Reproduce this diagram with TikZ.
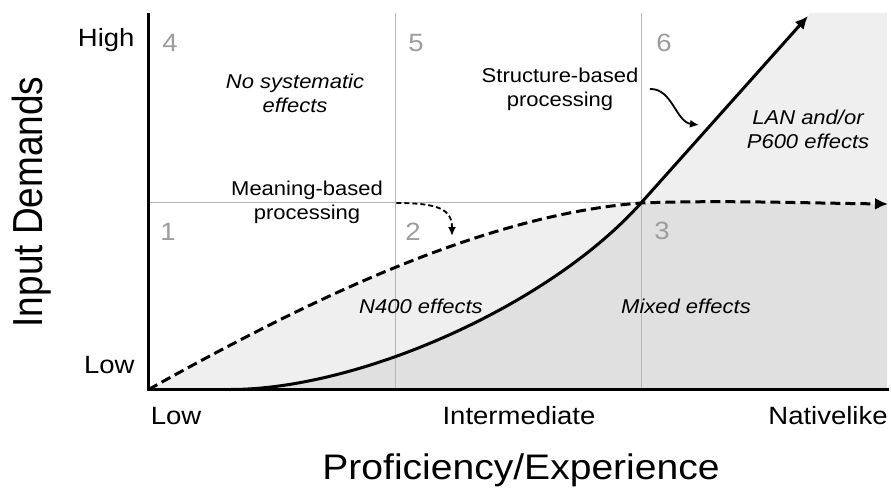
\documentclass[tikz,border=0pt]{standalone}
\usepackage{fontspec}
\setmainfont[FakeStretch=1.1]{Liberation Sans}
\newfontfamily\vertfont[FakeStretch=0.88]{Liberation Sans}
\usetikzlibrary{arrows.meta}
\tikzset{>={Latex[length=13pt,width=12pt]}}
\definecolor{lightdots}{HTML}{EFEFEF}
\definecolor{darkdots}{HTML}{E0E0E0}
\definecolor{gridgray}{HTML}{B5B5B5}
\definecolor{numgray}{HTML}{9C9C9C}
\tikzset{
    quadnum/.style={text=numgray, font=\fontsize{25}{30}\selectfont, anchor=base},
    ticklabel/.style={font=\fontsize{25}{30}\selectfont, anchor=base},
    effect/.style={font=\fontsize{20}{24}\selectfont\itshape, align=center},
    process/.style={font=\fontsize{20}{24}\selectfont, align=center},
    pointer/.style={line width=1.8pt, -{Latex[length=9pt,width=8pt]}},
}

\begin{document}
\begin{tikzpicture}[x=1pt, y=-1pt]
    \useasboundingbox (0,0) rectangle (891,487);
    \coordinate (origin) at (148.5,389.5);
    \coordinate (rise) at (230,389.5);
    \coordinate (cross) at (641,203);
    \coordinate (structtip) at (808,16);
    \coordinate (meantip) at (888,204);
    \fill[lightdots] (origin) .. controls (300,305) and (480,215) .. (cross) .. controls (550,305) and (360,389.5) .. (rise) -- cycle;
    \fill[lightdots] (cross) -- (810.5,13) -- (887,13) -- (887,204) .. controls (800,203) and (720,200) .. (cross) -- cycle;
    \fill[darkdots] (rise) .. controls (360,389.5) and (550,305) .. (cross) .. controls (720,200) and (800,203) .. (887,204) -- (887,389.5) -- cycle;
    \draw[gridgray, line width=1pt] (395,13) -- (395,389.5) (641,13) -- (641,389.5) (origin|-0,202) -- (641,202);
    \node[quadnum] (q4) at (170,52) {4};
    \node[quadnum] (q5) at (416,52) {5};
    \node[quadnum] (q6) at (664,52) {6};
    \node[quadnum] (q1) at (168,240) {1};
    \node[quadnum] (q2) at (413,240) {2};
    \node[quadnum] (q3) at (662,239) {3};
    \node[effect] (nosys) at (295,93) {No systematic\\effects};
    \node[effect] (lan) at (808,129) {LAN and/or\\P600 effects};
    \node[effect, anchor=base] (n400) at (421,313) {N400 effects};
    \node[effect, anchor=base] (mixed) at (686,313) {Mixed effects};
    \node[process] (mbp) at (307,202) {Meaning-based\\processing};
    \node[process] (sbp) at (560,89) {Structure-based\\processing};
    \coordinate (sbptip) at (699,125);
    \coordinate (mbptip) at (452,236);
    \draw[pointer] ([xshift=8pt]sbp.east) .. controls (672,88) and (676,122) .. (sbptip);
    \draw[pointer, dash pattern=on 5pt off 3pt] ([xshift=10pt,yshift=-1pt]mbp.east) .. controls (440,203) and (452,210) .. (mbptip);
    \draw[line width=3pt, dash pattern=on 10pt off 5pt, ->] (origin) .. controls (300,305) and (480,215) .. (cross) .. controls (720,200) and (800,203) .. (meantip);
    \draw[line width=3pt, ->] (rise) .. controls (360,389.5) and (550,305) .. (cross) -- (structtip);
    \draw[line width=3.5pt] (148.5,13) -- (origin) -- (889,389.5);
    \node[ticklabel, anchor=base east] (yhigh) at (138,47) {High};
    \node[ticklabel, anchor=base east] (ylow) at (138,373) {Low};
    \node[ticklabel] (xlow) at (176,424) {Low};
    \node[ticklabel] (xmid) at (519,424) {Intermediate};
    \node[ticklabel] (xnat) at (828,424) {Nativelike};
    \node[font=\fontsize{35.5}{42}\selectfont, anchor=base] (xtitle) at (521,479) {Proficiency/Experience};
    \node[font=\vertfont\fontsize{42}{50}\selectfont, rotate=90, anchor=base] (ytitle) at (42,202) {Input Demands};
\end{tikzpicture}
\end{document}
